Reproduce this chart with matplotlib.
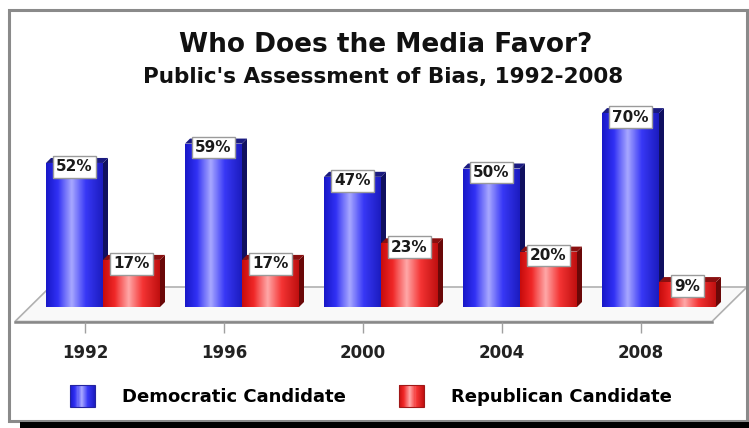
import matplotlib
matplotlib.use("Agg")
import matplotlib.pyplot as plt
import numpy as np
from matplotlib.colors import LinearSegmentedColormap
from matplotlib.patches import Polygon, Patch, Rectangle
from matplotlib.legend_handler import HandlerBase

# data
years = ["1992", "1996", "2000", "2004", "2008"]
democratic = [52, 59, 47, 50, 70]
republican = [17, 17, 23, 20, 9]
series_names = ["Democratic Candidate", "Republican Candidate"]

W, H = 749, 428
fig = plt.figure(figsize=(W / 100, H / 100), dpi=100)
fig.patch.set_facecolor("white")

px_cat = 139.0      # pixels per category
px_pct = 2.77       # pixels per percent
x0_px = 103.0       # centre of first group
base_px = 307.0     # bar baseline
ax_left, ax_right = 15.0, 748.0
ax_top, ax_bot = 95.0, 321.5

ax = fig.add_axes([ax_left / W, 1 - ax_bot / H,
                   (ax_right - ax_left) / W, (ax_bot - ax_top) / H])
xlim = ((ax_left - x0_px) / px_cat, (ax_right - x0_px) / px_cat)
ylim = (-(ax_bot - base_px) / px_pct, (base_px - ax_top) / px_pct)

# floor of the 3D plot
depth_x, depth_y = 35.0 / px_cat, 34.5 / px_pct
front_w = (712.0 - ax_left) / px_cat
floor = Polygon([(xlim[0], ylim[0]), (xlim[0] + front_w, ylim[0]),
                 (xlim[0] + front_w + depth_x, ylim[0] + depth_y),
                 (xlim[0] + depth_x, ylim[0] + depth_y)],
                closed=True, facecolor="#f9f9f9", edgecolor="#b0b0b0",
                lw=1.2, zorder=1, clip_on=False)
ax.add_patch(floor)
ax.plot([xlim[0], xlim[0] + front_w], [ylim[0], ylim[0]], color="#888888",
        lw=1.8, zorder=1.5, clip_on=False)

blue_cmap = LinearSegmentedColormap.from_list(
    "blue", [(0, "#1818c8"), (0.2, "#3030f4"), (0.45, "#a8a8ff"),
             (0.7, "#3838f6"), (1, "#1c1cc0")])
red_cmap = LinearSegmentedColormap.from_list(
    "red", [(0, "#c80c0c"), (0.2, "#f02828"), (0.45, "#ffa8a8"),
            (0.7, "#f43434"), (1, "#c01010")])
grad = np.linspace(0, 1, 64).reshape(1, -1)

x = np.arange(len(years))
bw = 57.0 / px_cat
bars_d = ax.bar(x - bw / 2, democratic, bw, color="none", zorder=3)
bars_r = ax.bar(x + bw / 2, republican, bw, color="none", zorder=3)

dx, dy = 5.0 / px_cat, 5.0 / px_pct
for bars, cmap, side, top in [(bars_d, blue_cmap, "#101060", "#1a1a80"),
                              (bars_r, red_cmap, "#6a0808", "#8a1010")]:
    for p in bars:
        bx0, by0 = p.get_x(), p.get_y()
        bx1, by1 = bx0 + p.get_width(), by0 + p.get_height()
        im = ax.imshow(grad, extent=[bx0, bx1, by0, by1], aspect="auto",
                       cmap=cmap, zorder=3, interpolation="bilinear")
        im.set_clip_path(p)
        ax.add_patch(Polygon([(bx1, by0), (bx1 + dx, by0 + dy),
                              (bx1 + dx, by1 + dy), (bx1, by1)],
                             closed=True, fc=side, ec="none", zorder=2.9))
        ax.add_patch(Polygon([(bx0, by1), (bx0 + dx, by1 + dy),
                              (bx1 + dx, by1 + dy), (bx1, by1)],
                             closed=True, fc=top, ec="none", zorder=2.9))
        ax.annotate(f"{int(p.get_height())}%",
                    (bx0 + p.get_width() / 2, by1), xytext=(0, -4),
                    textcoords="offset pixels", ha="center", va="center",
                    fontsize=11, fontweight="bold", color="#1a1a1a",
                    zorder=5,
                    bbox=dict(boxstyle="square,pad=0.22", fc="white",
                              ec="#9a9a9a", lw=1))

ax.set_xlim(xlim)
ax.set_ylim(ylim)
ax.set_xticks(x - 18.0 / px_cat)
ax.set_xticklabels(years, fontsize=12, fontweight="bold", color="#222222")
ax.tick_params(axis="x", length=8, width=1, color="#a0a0a0", pad=8,
               direction="out")
ax.set_yticks([])
for s in ax.spines.values():
    s.set_visible(False)
ax.patch.set_alpha(0)

fig.text(386 / W, 1 - 45 / H, "Who Does the Media Favor?", ha="center",
         va="center", fontsize=19, fontweight="bold", color="#111111")
fig.text(383 / W, 1 - 77 / H, "Public's Assessment of Bias, 1992-2008",
         ha="center", va="center", fontsize=15.5, fontweight="bold",
         color="#111111")


class GradientHandler(HandlerBase):
    """Legend key drawn as vertical strips of the bar gradient."""

    def __init__(self, cmap, edge):
        super().__init__()
        self.cmap = cmap
        self.edge = edge

    def create_artists(self, legend, orig_handle, xdescent, ydescent,
                       width, height, fontsize, trans):
        n = 24
        arts = []
        for i in range(n):
            arts.append(Rectangle((-xdescent + width * i / n, -ydescent),
                                  width / n * 1.05, height,
                                  fc=self.cmap((i + 0.5) / n), ec="none",
                                  transform=trans))
        arts.append(Rectangle((-xdescent, -ydescent), width, height,
                              fill=False, ec=self.edge, lw=0.8,
                              transform=trans))
        return arts


h_dem = Patch(facecolor="#4646f6")
h_rep = Patch(facecolor="#f04444")
fig.legend([h_dem, h_rep], series_names, loc="center", ncol=2,
           frameon=False, bbox_to_anchor=(371 / W, 1 - 396 / H),
           handlelength=1.4, handleheight=1.5, handletextpad=1.5,
           columnspacing=2.9, prop=dict(size=13, weight="bold"),
           handler_map={h_dem: GradientHandler(blue_cmap, "#2424a0"),
                        h_rep: GradientHandler(red_cmap, "#a01818")})

# outer frame and dark shadow strip
fig.patches.append(Rectangle((9 / W, 1 - 421 / H), (747 - 9) / W,
                             (421 - 10) / H, transform=fig.transFigure,
                             fill=False, ec="#8a8a8a", lw=2.2))
fig.patches.append(Rectangle((20 / W, 0), (W - 20) / W, 6 / H,
                             transform=fig.transFigure, fc="black",
                             ec="none"))

fig.savefig("out.png", dpi=100)
